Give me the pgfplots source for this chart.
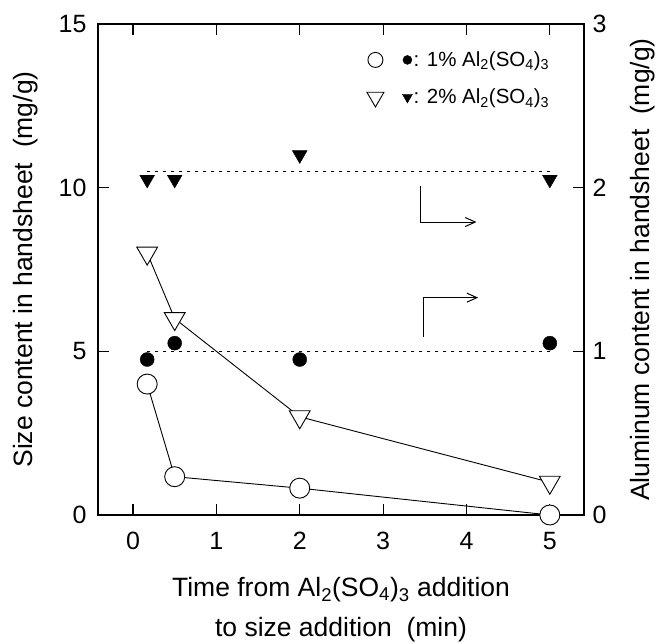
\documentclass[border=0pt]{standalone}
\usepackage{pgfplots}
\pgfplotsset{compat=1.18}
\usepackage{fontspec}
\setmainfont{Liberation Sans}
\usetikzlibrary{arrows.meta}
\begin{document}
\begin{tikzpicture}
\useasboundingbox (-98pt,-129pt) rectangle (560pt,515pt);
\pgfplotsset{
  common/.style={
    at={(0,0)}, anchor=south west,
    scale only axis, width=486pt, height=491pt,
    xmin=-0.42, xmax=5.41,
    tick align=inside, major tick length=11pt,
    axis line style={line width=1.3pt},
    every tick/.style={line width=1.1pt, black},
    /pgf/number format/assume math mode=true,
    ticklabel style={font=\fontsize{25}{30}\selectfont},
    label style={font=\fontsize{26.5}{40}\selectfont},
  }
}
\begin{axis}[common,
  ymin=0, ymax=15,
  xtick={0,1,2,3,4,5}, ytick={0,5,10,15},
  xtick pos=both, ytick pos=left,
  xticklabel pos=lower,
  xticklabel shift=14pt, yticklabel shift=8pt,
  xlabel={Time from Al\textsubscript{2}(SO\textsubscript{4})\textsubscript{3} addition\\to size addition\ \ (min)},
  xlabel style={align=center, at={(axis description cs:0.5,-0.12)}, anchor=north},
  ylabel={Size content in handsheet\ \ (mg/g)},
  ylabel style={at={(axis description cs:-0.134,0.5)}, anchor=base},
  legend style={draw=none, fill=none, at={(0.937,0.95)}, anchor=north east,
    font=\fontsize{20.5}{25}\selectfont, row sep=19pt, nodes={inner sep=1pt}},
  legend cell align=left,
]
\addlegendimage{legend image code/.code={
  \draw[black,line width=0.9pt,fill=white] (0pt,0pt) circle (7.5pt);
  \fill[black] (32pt,0pt) circle (4.5pt);}}
\addlegendentry{: 1\% Al\textsubscript{2}(SO\textsubscript{4})\textsubscript{3}}
\addlegendimage{legend image code/.code={
  \draw[black,line width=0.9pt,fill=white] (-8.5pt,5pt) -- (8.5pt,5pt) -- (0pt,-9.7pt) -- cycle;
  \fill[black] (27pt,3pt) -- (37pt,3pt) -- (32pt,-5.7pt) -- cycle;}}
\addlegendentry{: 2\% Al\textsubscript{2}(SO\textsubscript{4})\textsubscript{3}}

\addplot[black, line width=0.9pt, mark=*, mark size=10pt, mark options={solid, fill=white, draw=black, line width=0.9pt}]
  coordinates {(0.17,4.0) (0.5,1.17) (2,0.82) (5,0)};
\addplot[black, line width=0.9pt, mark=triangle*, mark size=12pt, mark options={solid, rotate=180, fill=white, draw=black, line width=0.9pt}]
  coordinates {(0.17,8.0) (0.5,6.0) (2,3.0) (5,1.0)};

\draw[line width=1pt, -{Straight Barb[length=10pt,width=9pt]}]
  (axis cs:3.45,10.05) -- (axis cs:3.45,8.95) -- (axis cs:4.12,8.95);
\draw[line width=1pt, -{Straight Barb[length=10pt,width=9pt]}]
  (axis cs:3.48,5.45) -- (axis cs:3.48,6.64) -- (axis cs:4.14,6.64);
\end{axis}

\begin{axis}[common,
  ymin=0, ymax=3,
  axis x line=none, axis y line*=right,
  ytick={0,1,2,3},
  yticklabel shift=5pt,
  ylabel={Aluminum content in handsheet\ \ (mg/g)},
  ylabel style={at={(axis description cs:1.135,0.5)}, anchor=base},
]
\addplot[black, line width=1pt, dash pattern=on 3pt off 5pt] coordinates {(0.17,1.0) (5,1.0)};
\addplot[black, line width=1pt, dash pattern=on 3pt off 5pt] coordinates {(0.17,2.1) (5,2.1)};
\addplot[only marks, black, mark=*, mark size=7pt] coordinates {(0.17,0.95) (0.5,1.05) (2,0.95) (5,1.05)};
\addplot[only marks, black, mark=triangle*, mark size=8.5pt, mark options={rotate=180}]
  coordinates {(0.17,2.05) (0.5,2.05) (2,2.2) (5,2.05)};
\end{axis}
\end{tikzpicture}
\end{document}
